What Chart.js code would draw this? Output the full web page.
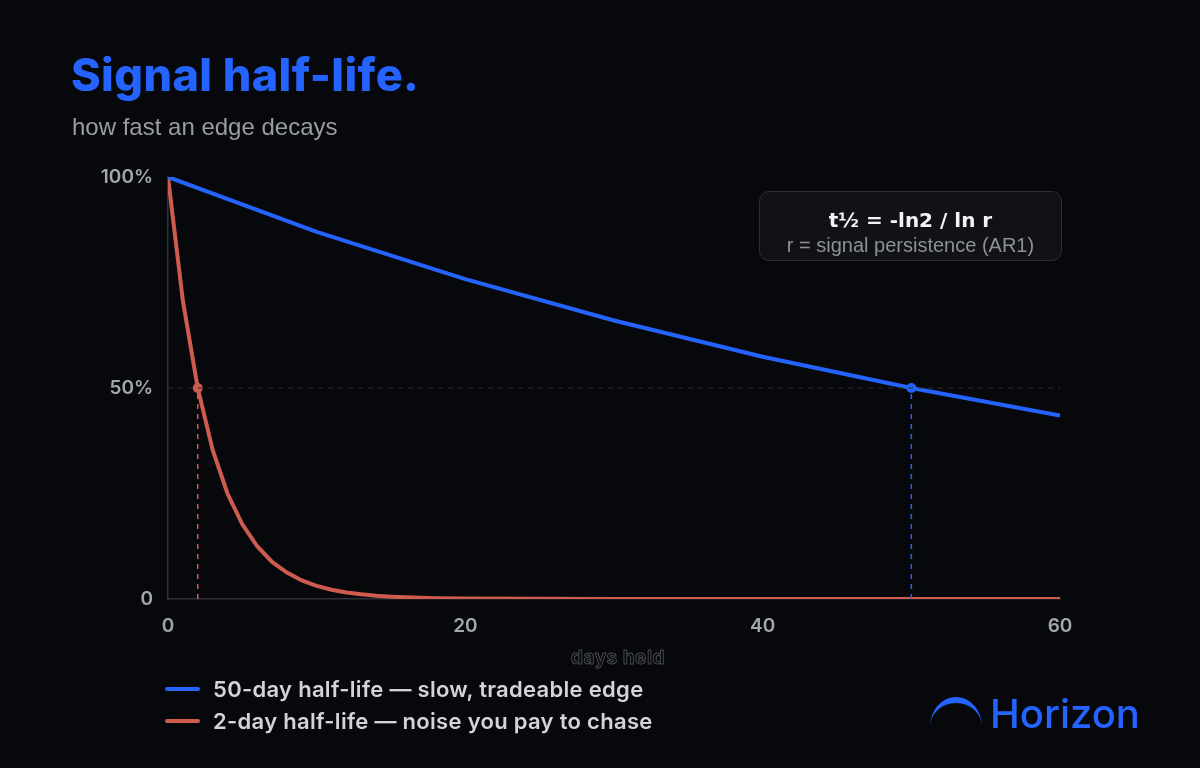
<!DOCTYPE html>
<html>
<head>
<meta charset="utf-8">
<script src="https://cdn.jsdelivr.net/npm/chart.js@4"></script>
<style>
  html, body { margin: 0; padding: 0; background: #07080b; }
  #wrap { position: relative; width: 1200px; height: 768px; overflow: hidden; background: #07080b; }
  #chart { position: absolute; left: 0; top: 0; }
  .txt { position: absolute; white-space: nowrap; }
  #title { left: 71px; top: 48px; font: 800 45px Inter, sans-serif; color: #2563ff; letter-spacing: 0.4px; line-height: 54px; }
  #subtitle { left: 72px; top: 112px; font: 400 24px "Liberation Sans", Arial, sans-serif; color: #9a9ca3; line-height: 30px; }
  #formula { position: absolute; left: 759px; top: 191px; width: 301px; height: 68px; border: 1px solid #2c2e35; border-radius: 10px; background: #111216; box-sizing: content-box; }
  #formula .f1 { position: absolute; left: 0; right: 0; top: 16px; text-align: center; font: 700 20px "DejaVu Sans", sans-serif; color: #f2f3f5; line-height: 24px; }
  #formula .f2 { position: absolute; left: 0; right: 0; top: 41px; text-align: center; font: 400 20px "Liberation Sans", Arial, sans-serif; color: #8d9097; line-height: 24px; }
  #xtitle { left: 548px; top: 646px; width: 140px; text-align: center; font: 700 19px Inter, sans-serif; color: transparent; -webkit-text-stroke: 0.9px #4a4d55; line-height: 24px; letter-spacing: 0.5px; }
  #legend { position: absolute; left: 165px; top: 673px; }
  .row { display: flex; align-items: center; height: 32px; }
  .swatch { width: 35px; height: 4px; border-radius: 2px; margin-right: 13px; }
  .row span { font: 600 22px Inter, sans-serif; color: #d2d4da; letter-spacing: 0.3px; }
  #logo { position: absolute; left: 926px; top: 692px; }
  #brand { left: 990px; top: 690px; font: 500 40px Inter, sans-serif; color: #2563ff; line-height: 48px; }
</style>
</head>
<body>
<div id="wrap">
  <canvas id="chart" width="1200" height="768"></canvas>
  <div class="txt" id="title">Signal half-life.</div>
  <div class="txt" id="subtitle">how fast an edge decays</div>
  <div id="formula">
    <div class="f1">t½ = -ln2 / ln r</div>
    <div class="f2">r = signal persistence (AR1)</div>
  </div>
  <div class="txt" id="xtitle">days held</div>
  <div id="legend"></div>
  <svg id="logo" width="60" height="40" viewBox="0 0 60 40">
    <path d="M4 35 A26 30 0 0 1 56 35 A26 24 0 0 0 4 35 Z" fill="#2563ff"/>
  </svg>
  <div class="txt" id="brand">Horizon</div>
</div>

<script>
// Data
const slowLabel = '50-day half-life — slow, tradeable edge';
const fastLabel = '2-day half-life — noise you pay to chase';

const slowDays = [0, 10, 20, 30, 40, 50, 60];
const slowValues = [1.0, 0.87, 0.758, 0.66, 0.574, 0.5, 0.435];

const fastDays = [0, 1, 2, 3, 4, 5, 6, 7, 8, 9, 10, 11, 12, 13, 14, 15, 16, 18, 20, 30, 40, 50, 60];
const fastValues = [1.0, 0.707, 0.5, 0.354, 0.25, 0.177, 0.125, 0.088, 0.0625, 0.044, 0.031, 0.022, 0.0156,
                    0.011, 0.0078, 0.0055, 0.0039, 0.002, 0.001, 0, 0, 0, 0];

const halfLifeDays = [50, 2];   // blue, red
const halfLevel = 0.5;

const xTicks = [0, 20, 40, 60];
const yTicks = [0, 0.5, 1];
const yTickLabels = ['0', '50%', '100%'];

const blue = '#2563ff';
const red = '#cf5a4e';

const toPoints = (xs, ys) => xs.map((x, i) => ({ x: x, y: ys[i] }));

// HTML legend
const legendEl = document.getElementById('legend');
[[slowLabel, blue], [fastLabel, red]].forEach(([label, color]) => {
    const row = document.createElement('div');
    row.className = 'row';
    row.innerHTML = `<div class="swatch" style="background:${color}"></div><span>${label}</span>`;
    legendEl.appendChild(row);
});

const ctx = document.getElementById('chart').getContext('2d');
new Chart(ctx, {
    type: 'line',
    data: {
        datasets: [
            // dashed 50% guide
            {
                data: [{ x: xTicks[0], y: halfLevel }, { x: xTicks[xTicks.length - 1], y: halfLevel }],
                borderColor: '#2a2c33', borderWidth: 1, borderDash: [5, 5], pointRadius: 0
            },
            // dashed drop lines at the half-lives
            {
                data: [{ x: halfLifeDays[0], y: 0 }, { x: halfLifeDays[0], y: halfLevel }],
                borderColor: blue, borderWidth: 1.5, borderDash: [5, 5], pointRadius: 0
            },
            {
                data: [{ x: halfLifeDays[1], y: 0 }, { x: halfLifeDays[1], y: halfLevel }],
                borderColor: red, borderWidth: 1.5, borderDash: [5, 5], pointRadius: 0
            },
            {
                label: slowLabel,
                data: toPoints(slowDays, slowValues),
                borderColor: blue, borderWidth: 4, pointRadius: 0, tension: 0
            },
            {
                label: fastLabel,
                data: toPoints(fastDays, fastValues),
                borderColor: red, borderWidth: 4, pointRadius: 0, tension: 0
            },
            // half-life markers
            {
                data: [{ x: halfLifeDays[0], y: halfLevel }],
                showLine: false, pointRadius: 5, pointBackgroundColor: blue, pointBorderWidth: 0
            },
            {
                data: [{ x: halfLifeDays[1], y: halfLevel }],
                showLine: false, pointRadius: 5, pointBackgroundColor: red, pointBorderWidth: 0
            }
        ]
    },
    options: {
        responsive: false,
        animation: false,
        layout: { padding: { left: 0, right: 140, top: 177, bottom: 0 } },
        plugins: { legend: { display: false }, tooltip: { enabled: false } },
        scales: {
            x: {
                type: 'linear', min: 0, max: 60,
                afterBuildTicks: (scale) => { scale.ticks = xTicks.map(v => ({ value: v })); },
                afterFit: (scale) => { scale.height = 169; },
                grid: { display: true, color: 'transparent', drawTicks: false },
                border: { display: true, color: '#2e3038', width: 1.5 },
                ticks: { padding: 16, color: '#a3a6ad', font: { family: 'Inter', size: 19, weight: '600' } }
            },
            y: {
                min: 0, max: 1,
                afterBuildTicks: (scale) => { scale.ticks = yTicks.map(v => ({ value: v })); },
                afterFit: (scale) => { scale.width = 168; },
                grid: { display: true, color: 'transparent', drawTicks: false },
                border: { display: true, color: '#2e3038', width: 1.5 },
                ticks: {
                    padding: 15, color: '#a3a6ad', font: { family: 'Inter', size: 19, weight: '600' },
                    callback: (v) => yTickLabels[yTicks.indexOf(v)]
                }
            }
        }
    }
});
</script>
</body>
</html>
